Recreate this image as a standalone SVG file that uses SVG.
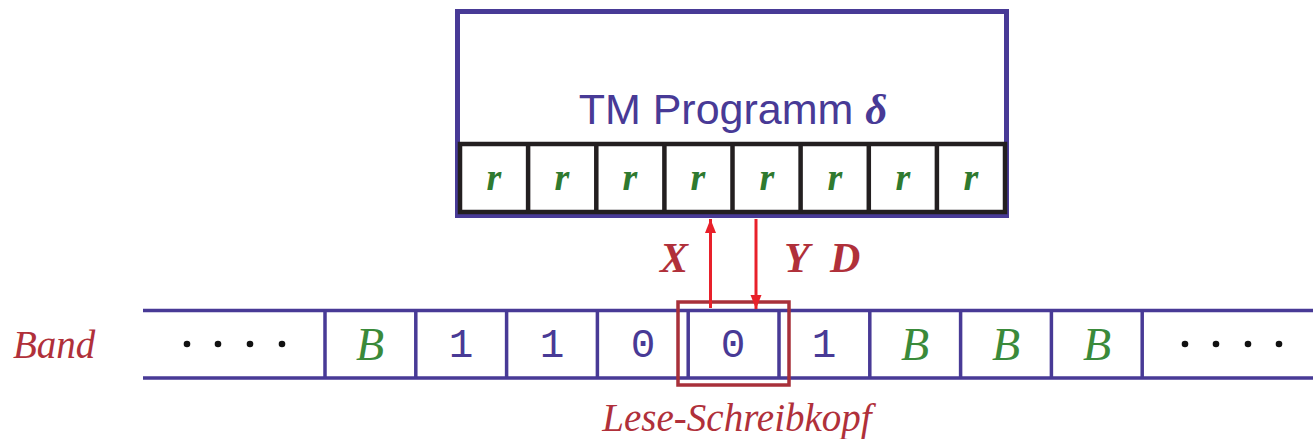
<svg xmlns="http://www.w3.org/2000/svg" width="1313" height="439" viewBox="0 0 1313 439">
<defs>
<style>
.pur{fill:none;stroke:#483a96;stroke-width:3.5}
.blk{fill:none;stroke:#231f20;stroke-width:4.5}
.red{fill:none;stroke:#e8202a;stroke-width:3}
.mono{font-family:"Liberation Mono",monospace;font-size:41px;fill:#483a96;text-anchor:middle}
.bb{font-family:"Liberation Serif",serif;font-style:italic;font-size:46px;fill:#3a8a3a;text-anchor:middle}
.rr{font-family:"Liberation Serif",serif;font-style:italic;font-weight:bold;font-size:38px;fill:#2f7a2f;text-anchor:middle}
.lab{font-family:"Liberation Serif",serif;font-style:italic;font-weight:bold;font-size:42px;fill:#b0303a}
.it{font-family:"Liberation Serif",serif;font-style:italic;font-size:39px;fill:#b0303a}
</style>
<marker id="ah" viewBox="0 0 14 16" refX="14" refY="8" markerWidth="14" markerHeight="16" markerUnits="userSpaceOnUse" orient="auto">
<path d="M0,2.5 L14,8 L0,13.5 Z" fill="#e8202a"/>
</marker>
</defs>
<g id="program">
<rect x="457.5" y="11.5" width="549" height="204" fill="#fff" stroke="#483a96" stroke-width="5"/>
<text x="733" y="124" font-family="Liberation Sans, sans-serif" font-size="43" fill="#483a96" text-anchor="middle">TM Programm <tspan font-family="Liberation Serif, serif" font-style="italic" font-weight="bold">δ</tspan></text>
</g>
<g id="registers">
<rect x="460" y="144" width="545" height="68" class="blk"/>
<path class="blk" d="M528.1,144V212M596.3,144V212M664.4,144V212M732.5,144V212M800.6,144V212M868.8,144V212M936.9,144V212"/>
<text class="rr" x="494" y="190">r</text>
<text class="rr" x="562" y="190">r</text>
<text class="rr" x="630" y="190">r</text>
<text class="rr" x="698" y="190">r</text>
<text class="rr" x="767" y="190">r</text>
<text class="rr" x="835" y="190">r</text>
<text class="rr" x="903" y="190">r</text>
<text class="rr" x="971" y="190">r</text>
</g>
<g id="tape">
<path class="pur" d="M143,310.5H1313M143,378H1313"/>
<path class="pur" d="M325,310.5V378M415.8,310.5V378M506.6,310.5V378M597.4,310.5V378M688.2,310.5V378M779,310.5V378M869.8,310.5V378M960.6,310.5V378M1051.4,310.5V378M1142.2,310.5V378"/>
<g fill="#111"><circle cx="187" cy="344" r="3.3"/><circle cx="218" cy="344" r="3.3"/><circle cx="250" cy="344" r="3.3"/><circle cx="282" cy="344" r="3.3"/>
<circle cx="1185" cy="344" r="3.3"/><circle cx="1216" cy="344" r="3.3"/><circle cx="1248" cy="344" r="3.3"/><circle cx="1279" cy="344" r="3.3"/></g>
<text class="bb" x="370" y="360">B</text>
<text class="mono" x="461" y="357">1</text>
<text class="mono" x="552" y="357">1</text>
<text class="mono" x="643" y="357">0</text>
<text class="mono" x="733" y="357">0</text>
<text class="mono" x="824" y="357">1</text>
<text class="bb" x="915" y="360">B</text>
<text class="bb" x="1006" y="360">B</text>
<text class="bb" x="1097" y="360">B</text>
</g>
<g id="band-label"><text class="it" x="13" y="358">Band</text></g>
<g id="head">
<rect x="678" y="302" width="111" height="83" fill="none" stroke="#a8303a" stroke-width="3.5"/>
<text class="it" x="737" y="431" text-anchor="middle">Lese-Schreibkopf</text>
</g>
<g id="connectors">
<line class="red" x1="710.5" y1="308" x2="710.5" y2="219" marker-end="url(#ah)"/>
<line class="red" x1="756" y1="219" x2="756" y2="309" marker-end="url(#ah)"/>
<text class="lab" x="660" y="272">X</text>
<text class="lab" x="784" y="272">Y</text>
<text class="lab" x="830" y="272">D</text>
</g>
</svg>
